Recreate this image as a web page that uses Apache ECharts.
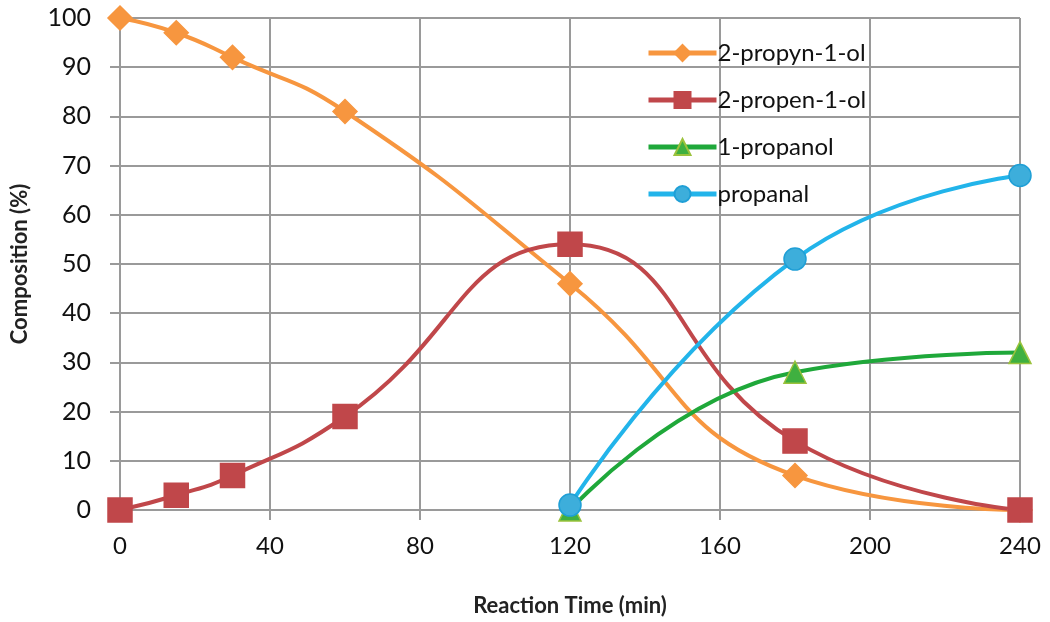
<!DOCTYPE html>
<html><head><meta charset="utf-8">
<script src="https://cdn.jsdelivr.net/npm/echarts@6/dist/echarts.min.js"></script>
<style>html,body{margin:0;padding:0;background:#fff}#c{width:1050px;height:622px}</style>
</head><body><div id="c"></div>
<script>
const seriesNames = ['2-propyn-1-ol','2-propen-1-ol','1-propanol','propanal'];
const propynolTime = [0,15,30,60,120,180,240];
const propynolVals = [100,97,92,81,46,7,0];
const propenolTime = [0,15,30,60,120,180,240];
const propenolVals = [0,3,7,19,54,14,0];
const propanolTime = [120,180,240];
const propanolVals = [0,28,32];
const propanalTime = [120,180,240];
const propanalVals = [1,51,68];
const xTicks = [0,40,80,120,160,200,240];
const yTicks = [0,10,20,30,40,50,60,70,80,90,100];

const pair = (t,v)=>t.map((x,i)=>[x,v[i]]);
const font = 'Lato, "Open Sans", sans-serif';
const chart = echarts.init(document.getElementById('c'));
const mk = (name, t, v, color, symbol, size, fill, border) => ({
  name, type:'line', smooth:0.5, data:pair(t,v), symbol, symbolSize:size,
  lineStyle:{color, width:4}, itemStyle:{color:fill||color, borderColor:border||color, borderWidth:1.5},
  z: 3
});
chart.setOption({
  animation:false,
  backgroundColor:'#fff',
  grid:{left:120, right:30, top:18, bottom:112, containLabel:false, outerBoundsMode:'none'},
  legend:{
    orient:'vertical', left:641, top:36, itemGap:23, itemWidth:68, itemHeight:20,
    lineStyle:{width:5},
    textStyle:{fontFamily:font, fontSize:24, color:'#111', padding:[0,0,0,-4]},
    data:seriesNames
  },
  xAxis:{
    type:'value', min:xTicks[0], max:xTicks[xTicks.length-1], interval:40,
    name:'Reaction Time (min)', nameLocation:'middle', nameGap:85,
    nameTextStyle:{fontFamily:font, fontSize:22, fontWeight:'bold', color:'#222'},
    axisLine:{show:true, lineStyle:{color:'#9a9a9a', width:2}},
    axisTick:{show:true, length:10, lineStyle:{color:'#9a9a9a', width:2}},
    splitLine:{show:true, lineStyle:{color:'#9a9a9a', width:2}},
    axisLabel:{fontFamily:font, fontSize:24, color:'#111', margin:24}
  },
  yAxis:{
    type:'value', min:yTicks[0], max:yTicks[yTicks.length-1], interval:10,
    name:'Composition (%)', nameLocation:'middle', nameGap:89, nameRotate:90,
    nameTextStyle:{fontFamily:font, fontSize:22, fontWeight:'bold', color:'#222'},
    axisLine:{show:true, lineStyle:{color:'#9a9a9a', width:2}},
    axisTick:{show:true, length:10, lineStyle:{color:'#9a9a9a', width:2}},
    splitLine:{show:true, lineStyle:{color:'#9a9a9a', width:2}},
    axisLabel:{fontFamily:font, fontSize:25, color:'#111', margin:29}
  },
  series:[
    mk(seriesNames[0], propynolTime, propynolVals, '#F7963F', 'diamond', 24),
    mk(seriesNames[1], propenolTime, propenolVals, '#C0474A', 'rect', 24),
    mk(seriesNames[2], propanolTime, propanolVals, '#1FA83A', 'triangle', 22, '#3FB040', '#9BC23C'),
    mk(seriesNames[3], propanalTime, propanalVals, '#22B4EA', 'circle', 22, '#3DAEDB', '#1F9FD6')
  ]
});
</script></body></html>
